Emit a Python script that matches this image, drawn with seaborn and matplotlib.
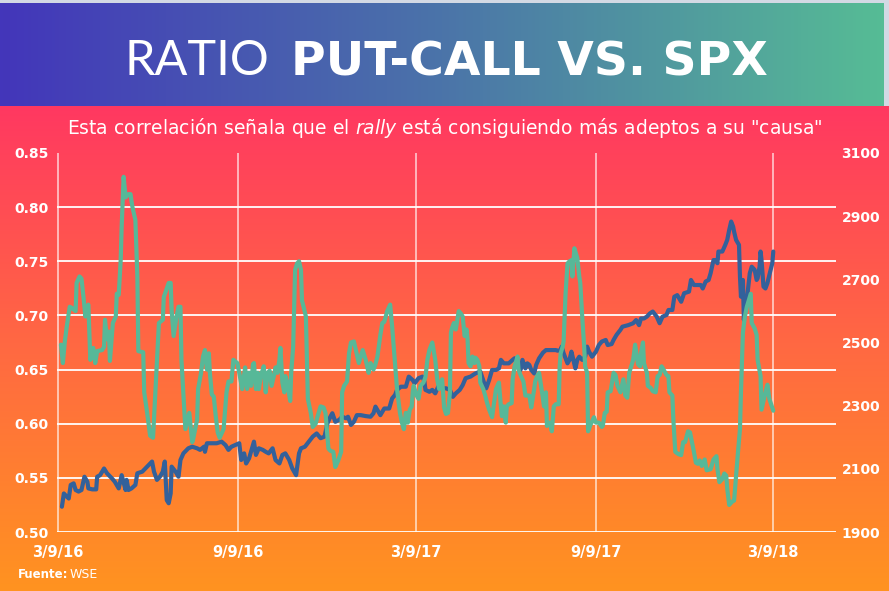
import numpy as np
import pandas as pd
import matplotlib
matplotlib.use("Agg")
import matplotlib.pyplot as plt
from matplotlib.colors import LinearSegmentedColormap
import seaborn as sns

# dias desde el 9/3/2016 y valores
start = pd.Timestamp("2016-03-09")

pc_days = [3, 5, 7, 9, 12, 14, 18, 19, 22, 24, 26, 28, 30, 31, 33, 36, 38, 40, 45, 47,
           48, 50, 52, 53, 56, 59, 60, 62, 64, 65, 67, 69, 72, 74, 76, 79, 81, 82, 87, 88,
           91, 94, 97, 101, 103, 107, 108, 113, 115, 116, 118, 121, 123, 125, 126, 130, 134, 137, 138, 142,
           143, 146, 148, 150, 152, 154, 155, 157, 159, 161, 163, 165, 169, 172, 174, 177, 179, 183, 185, 188,
           191, 193, 195, 197, 199, 200, 202, 204, 205, 207, 210, 212, 214, 216, 218, 221, 222, 224, 226, 227,
           229, 231, 232, 234, 237, 238, 240, 242, 244, 246, 248, 249, 253, 255, 258, 260, 263, 265, 268, 271,
           273, 276, 278, 281, 283, 286, 289, 290, 292, 295, 297, 299, 302, 304, 307, 311, 314, 317, 319, 322,
           324, 326, 329, 331, 333, 336, 339, 341, 343, 346, 349, 351, 353, 355, 357, 359, 361, 362, 363, 366,
           368, 370, 373, 375, 377, 379, 382, 385, 387, 389, 392, 393, 394, 396, 398, 400, 401, 402, 404, 406,
           409, 411, 413, 415, 417, 418, 419, 421, 423, 425, 426, 428, 430, 431, 434, 436, 438, 440, 443, 445,
           447, 450, 452, 453, 455, 457, 458, 460, 463, 464, 466, 469, 470, 472, 475, 477, 481, 483, 486, 487,
           489, 491, 492, 494, 496, 498, 499, 502, 504, 506, 508, 511, 512, 513, 515, 516, 518, 520, 522, 524,
           525, 527, 530, 532, 533, 535, 537, 538, 540, 541, 543, 547, 549, 552, 555, 556, 558, 560, 561, 564,
           566, 567, 569, 571, 574, 577, 579, 581, 583, 585, 587, 589, 592, 594, 595, 597, 598, 601, 602, 605,
           607, 610, 612, 614, 616, 618, 621, 623, 624, 627, 628, 630, 633, 636, 638, 640, 643, 645, 647, 649,
           651, 653, 655, 657, 660, 662, 666, 669, 672, 673, 675, 678, 680, 682, 683, 685, 688, 690, 692, 694,
           696, 697, 699, 701, 703, 705, 707, 708, 711, 713, 714, 717, 718, 722, 724, 726, 730]
pc_vals = [0.673, 0.656, 0.676, 0.690, 0.708, 0.707, 0.704, 0.730, 0.736, 0.734, 0.717, 0.699, 0.708, 0.710, 0.659, 0.670, 0.656, 0.667, 0.668, 0.671,
           0.696, 0.678, 0.685, 0.658, 0.693, 0.699, 0.720, 0.719, 0.751, 0.782, 0.828, 0.809, 0.812, 0.812, 0.800, 0.788, 0.736, 0.667, 0.666, 0.629,
           0.610, 0.589, 0.587, 0.659, 0.693, 0.696, 0.717, 0.730, 0.730, 0.705, 0.681, 0.699, 0.708, 0.708, 0.659, 0.595, 0.610, 0.583, 0.586, 0.604,
           0.632, 0.647, 0.662, 0.668, 0.650, 0.665, 0.647, 0.627, 0.625, 0.607, 0.592, 0.587, 0.595, 0.629, 0.639, 0.639, 0.659, 0.656, 0.647, 0.632,
           0.652, 0.632, 0.647, 0.635, 0.655, 0.656, 0.632, 0.647, 0.632, 0.644, 0.653, 0.629, 0.647, 0.649, 0.635, 0.647, 0.652, 0.647, 0.659, 0.670,
           0.638, 0.629, 0.644, 0.638, 0.621, 0.647, 0.671, 0.742, 0.748, 0.750, 0.742, 0.714, 0.699, 0.623, 0.610, 0.597, 0.600, 0.607, 0.616, 0.615,
           0.610, 0.577, 0.575, 0.574, 0.560, 0.566, 0.574, 0.629, 0.635, 0.639, 0.665, 0.675, 0.676, 0.668, 0.656, 0.668, 0.659, 0.647, 0.656, 0.650,
           0.655, 0.662, 0.682, 0.693, 0.694, 0.704, 0.710, 0.690, 0.667, 0.632, 0.610, 0.601, 0.595, 0.610, 0.601, 0.613, 0.616, 0.629, 0.635, 0.626,
           0.623, 0.635, 0.638, 0.643, 0.659, 0.668, 0.675, 0.659, 0.641, 0.632, 0.641, 0.629, 0.615, 0.609, 0.610, 0.629, 0.684, 0.688, 0.693, 0.687,
           0.704, 0.702, 0.699, 0.681, 0.687, 0.678, 0.656, 0.653, 0.662, 0.656, 0.661, 0.659, 0.653, 0.638, 0.632, 0.626, 0.619, 0.613, 0.606, 0.619,
           0.632, 0.638, 0.616, 0.607, 0.616, 0.601, 0.616, 0.618, 0.619, 0.641, 0.653, 0.662, 0.650, 0.645, 0.639, 0.626, 0.626, 0.615, 0.632, 0.639,
           0.644, 0.647, 0.641, 0.629, 0.616, 0.629, 0.598, 0.601, 0.593, 0.616, 0.618, 0.618, 0.653, 0.665, 0.671, 0.676, 0.720, 0.748, 0.750, 0.751,
           0.736, 0.762, 0.753, 0.736, 0.730, 0.699, 0.671, 0.653, 0.647, 0.593, 0.598, 0.606, 0.601, 0.601, 0.597, 0.598, 0.610, 0.611, 0.629, 0.630,
           0.641, 0.647, 0.645, 0.635, 0.629, 0.641, 0.626, 0.624, 0.647, 0.653, 0.659, 0.673, 0.655, 0.653, 0.665, 0.675, 0.656, 0.647, 0.635, 0.633,
           0.630, 0.629, 0.644, 0.645, 0.653, 0.650, 0.645, 0.644, 0.629, 0.626, 0.604, 0.574, 0.572, 0.571, 0.583, 0.583, 0.593, 0.592, 0.583, 0.574,
           0.564, 0.563, 0.566, 0.561, 0.567, 0.557, 0.558, 0.567, 0.570, 0.558, 0.546, 0.549, 0.554, 0.552, 0.540, 0.525, 0.528, 0.529, 0.552, 0.574,
           0.595, 0.629, 0.684, 0.699, 0.708, 0.714, 0.720, 0.693, 0.688, 0.682, 0.659, 0.644, 0.613, 0.629, 0.636, 0.623, 0.612]

spx_days = [4, 6, 9, 11, 13, 16, 18, 21, 24, 27, 30, 31, 35, 39, 40, 43, 47, 50, 55, 58,
            62, 65, 69, 70, 72, 75, 79, 81, 86, 91, 96, 98, 101, 104, 107, 109, 111, 113, 115, 116,
            120, 123, 125, 128, 133, 137, 142, 145, 149, 150, 152, 157, 162, 167, 171, 174, 177, 185, 187, 190,
            192, 195, 200, 202, 205, 209, 212, 215, 219, 222, 226, 229, 232, 236, 239, 243, 246, 248, 252, 256,
            260, 264, 268, 272, 275, 278, 280, 283, 287, 290, 294, 296, 299, 302, 305, 309, 314, 319, 322, 324,
            329, 333, 338, 341, 344, 346, 350, 355, 358, 362, 364, 368, 372, 374, 375, 379, 382, 385, 388, 392,
            396, 400, 403, 406, 410, 413, 416, 421, 426, 431, 435, 437, 440, 443, 447, 450, 452, 455, 460, 464,
            466, 470, 472, 474, 477, 479, 481, 483, 486, 488, 491, 495, 498, 503, 508, 510, 513, 514, 516, 520,
            522, 524, 526, 528, 530, 532, 535, 538, 540, 542, 545, 549, 552, 555, 559, 561, 565, 567, 570, 574,
            576, 582, 587, 590, 593, 595, 598, 601, 604, 607, 611, 614, 617, 621, 623, 627, 629, 632, 636, 639,
            644, 646, 649, 653, 656, 658, 661, 664, 666, 669, 671, 673, 674, 678, 681, 683, 685, 687, 689, 690,
            692, 695, 696, 697, 699, 700, 701, 703, 706, 708, 711, 713, 714, 716, 717, 718, 720, 722, 724, 726,
            729, 730]
spx_vals = [1980, 2022, 2012, 2006, 2049, 2054, 2033, 2028, 2033, 2075, 2059, 2038, 2035, 2035, 2075, 2080, 2101, 2086, 2070, 2059,
            2038, 2080, 2033, 2065, 2033, 2038, 2049, 2086, 2091, 2107, 2123, 2091, 2065, 2075, 2091, 2123, 2001, 1991, 2022, 2107,
            2091, 2075, 2128, 2149, 2165, 2170, 2165, 2160, 2170, 2154, 2181, 2181, 2181, 2186, 2175, 2160, 2170, 2181, 2128, 2149,
            2117, 2133, 2186, 2144, 2165, 2160, 2154, 2149, 2165, 2128, 2117, 2144, 2149, 2128, 2102, 2080, 2149, 2165, 2170, 2186,
            2202, 2212, 2197, 2202, 2244, 2265, 2276, 2249, 2255, 2265, 2260, 2265, 2239, 2249, 2270, 2270, 2267, 2265, 2276, 2297,
            2270, 2291, 2291, 2323, 2334, 2350, 2360, 2360, 2392, 2381, 2371, 2387, 2392, 2376, 2350, 2344, 2350, 2339, 2360, 2355,
            2355, 2350, 2328, 2339, 2350, 2365, 2387, 2392, 2402, 2408, 2371, 2355, 2381, 2413, 2413, 2418, 2445, 2434, 2434, 2445,
            2450, 2434, 2413, 2445, 2418, 2434, 2429, 2413, 2402, 2429, 2450, 2468, 2476, 2476, 2476, 2474, 2476, 2487, 2466, 2434,
            2445, 2471, 2445, 2418, 2445, 2455, 2445, 2455, 2487, 2471, 2455, 2471, 2492, 2503, 2508, 2492, 2495, 2508, 2524, 2540,
            2550, 2555, 2561, 2571, 2555, 2576, 2576, 2582, 2592, 2598, 2582, 2561, 2582, 2587, 2603, 2603, 2645, 2650, 2629, 2656,
            2661, 2698, 2682, 2682, 2682, 2671, 2693, 2698, 2719, 2761, 2761, 2751, 2788, 2788, 2809, 2825, 2856, 2883, 2867, 2851,
            2825, 2809, 2708, 2645, 2698, 2571, 2635, 2635, 2719, 2740, 2730, 2698, 2703, 2740, 2788, 2761, 2677, 2671, 2688, 2714,
            2751, 2788]

date_ticks = ["2016-03-09", "2016-09-09", "2017-03-09", "2017-09-09", "2018-03-09"]
date_labels = ["3/9/16", "9/9/16", "3/9/17", "9/9/17", "3/9/18"]
pc_ticks = [0.50, 0.55, 0.60, 0.65, 0.70, 0.75, 0.80, 0.85]
spx_ticks = [1900, 2100, 2300, 2500, 2700, 2900, 3100]

pc = pd.DataFrame({"fecha": start + pd.to_timedelta(pc_days, unit="D"), "ratio": pc_vals})
spx = pd.DataFrame({"fecha": start + pd.to_timedelta(spx_days, unit="D"), "spx": spx_vals})

sns.set_style("white")
plt.rcParams["font.family"] = ["DejaVu Sans"]
plt.rcParams["mathtext.fontset"] = "custom"
plt.rcParams["mathtext.it"] = "DejaVu Sans:italic"
plt.rcParams["mathtext.rm"] = "DejaVu Sans"

W, H = 889, 591
fig = plt.figure(figsize=(W / 100, H / 100), dpi=100)
fig.patch.set_facecolor("#d3d9e4")

# fondo degradado rojo -> naranja
bg = fig.add_axes([0, 0, 1, (H - 106) / H])
cmap_bg = LinearSegmentedColormap.from_list("bg", ["#ff9320", "#ff6942", "#ff3861"])
bg.imshow(np.linspace(0, 1, 256).reshape(-1, 1), aspect="auto", cmap=cmap_bg,
          origin="lower", extent=[0, 1, 0, 1])
bg.axis("off")

# banda del titulo
ban = fig.add_axes([0, (H - 106) / H, 884 / W, 103 / H])
cmap_ban = LinearSegmentedColormap.from_list("ban", ["#4336ba", "#4b74a9", "#56bc95"])
ban.imshow(np.linspace(0, 1, 256).reshape(1, -1), aspect="auto", cmap=cmap_ban,
           extent=[0, 1, 0, 1])
ban.axis("off")

fig.text(269 / W, (H - 75) / H, "RATIO", ha="right", va="baseline", color="white",
         fontsize=35, family=["Lato", "DejaVu Sans"], fontweight="normal")
fig.text(291 / W, (H - 75) / H, "PUT-CALL VS. SPX", ha="left", va="baseline", color="white",
         fontsize=34, fontweight="bold")

fig.text(0.5, (H - 134) / H,
         'Esta correlación señala que el $\\mathit{rally}$ está consiguiendo más adeptos a su "causa"',
         ha="center", va="baseline", color="white", fontsize=13.5)

fig.text(18 / W, (H - 578) / H, "Fuente:", ha="left", va="baseline", color="white",
         fontsize=8.5, fontweight="bold")
fig.text(70 / W, (H - 578) / H, "WSE", ha="left", va="baseline", color="white", fontsize=9)

# ejes principales
ax = fig.add_axes([57 / W, (H - 532) / H, (836 - 57) / W, (532 - 153) / H])
ax.patch.set_visible(False)
ax2 = ax.twinx()
ax3 = ax.twinx()

green = "#57b898"
blue = "#33619b"

sns.lineplot(data=spx, x="fecha", y="spx", ax=ax2, color=blue, linewidth=3.0, estimator=None)
sns.lineplot(data=pc, x="fecha", y="ratio", ax=ax3, color=green, linewidth=3.0, estimator=None)

xmin, xmax = pd.Timestamp("2016-03-08"), pd.Timestamp("2018-05-12")
for a in (ax, ax2, ax3):
    a.set_xlim(xmin, xmax)
    a.set_xlabel("")
    a.set_ylabel("")
    for s in a.spines.values():
        s.set_visible(False)

ax.set_ylim(0.50, 0.85)
ax3.set_ylim(0.50, 0.85)
ax2.set_ylim(1900, 3100)
ax3.axis("off")

ax.set_yticks(pc_ticks)
ax.set_yticklabels([f"{v:.2f}" for v in pc_ticks], color="white", fontweight="bold", fontsize=10)
ax.set_xticks(pd.to_datetime(date_ticks))
ax.set_xticklabels(date_labels, color="white", fontweight="bold", fontsize=10.5)
ax.tick_params(axis="x", colors="white", length=5, width=1.3, pad=4)
ax.tick_params(axis="y", length=0, pad=6)

ax.grid(True, axis="y", color="white", linewidth=1.3)
ax.grid(True, axis="x", color="white", alpha=0.65, linewidth=1.3)
ax.yaxis.get_gridlines()[-1].set_visible(False)

ax2.set_yticks(spx_ticks)
ax2.set_yticklabels([str(v) for v in spx_ticks], color="white", fontweight="bold", fontsize=10)
ax2.tick_params(axis="y", length=0, pad=4)
ax2.grid(False)

fig.savefig("out.png", dpi=100, facecolor=fig.get_facecolor())
